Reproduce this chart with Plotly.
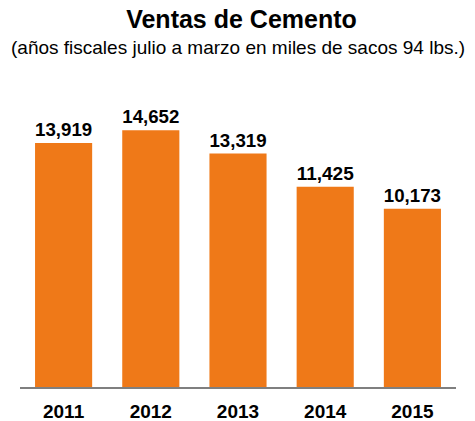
import plotly.graph_objects as go

# --- data ---
years = ["2011", "2012", "2013", "2014", "2015"]
ventas = [13919, 14652, 13319, 11425, 10173]

BAR_COLOR = "#EF7918"
FONT = "Arial"

# page body has an 8px default margin, so the figure is 8px smaller than the window
W, H = 467, 413

fig = go.Figure()
fig.add_trace(go.Bar(
    x=years, y=ventas,
    marker=dict(color=BAR_COLOR, line=dict(width=0)),
    texttemplate="%{y:,}", textposition="outside", cliponaxis=False,
    textfont=dict(family=FONT, size=20, color="black", weight="bold"),
))

fig.update_layout(
    width=W, height=H,
    margin=dict(l=12, r=19, t=81, b=34, autoexpand=False),
    paper_bgcolor="white", plot_bgcolor="white",
    bargap=0.345, showlegend=False,
    font=dict(family=FONT, color="black"),
    title=dict(text="<b>Ventas de Cemento</b>", x=0.5, xanchor="center",
               y=1 - 2 / H, yanchor="top", yref="container",
               font=dict(family=FONT, size=25, color="black")),
    annotations=[dict(text="(años fiscales julio a marzo en miles de sacos 94 lbs.)",
                      xref="paper", yref="paper", x=0.5, y=1, yshift=42,
                      xanchor="center", yanchor="middle", showarrow=False,
                      font=dict(family=FONT, size=19, color="black"))],
)
fig.update_xaxes(showline=True, linecolor="#7f7f7f", linewidth=2, showgrid=False,
                 ticks="outside", ticklen=6, tickcolor="rgba(0,0,0,0)",
                 tickfont=dict(family=FONT, size=19, color="black", weight="bold"))
fig.update_yaxes(visible=False, range=[0, 17000])

fig.write_html("out.html")
